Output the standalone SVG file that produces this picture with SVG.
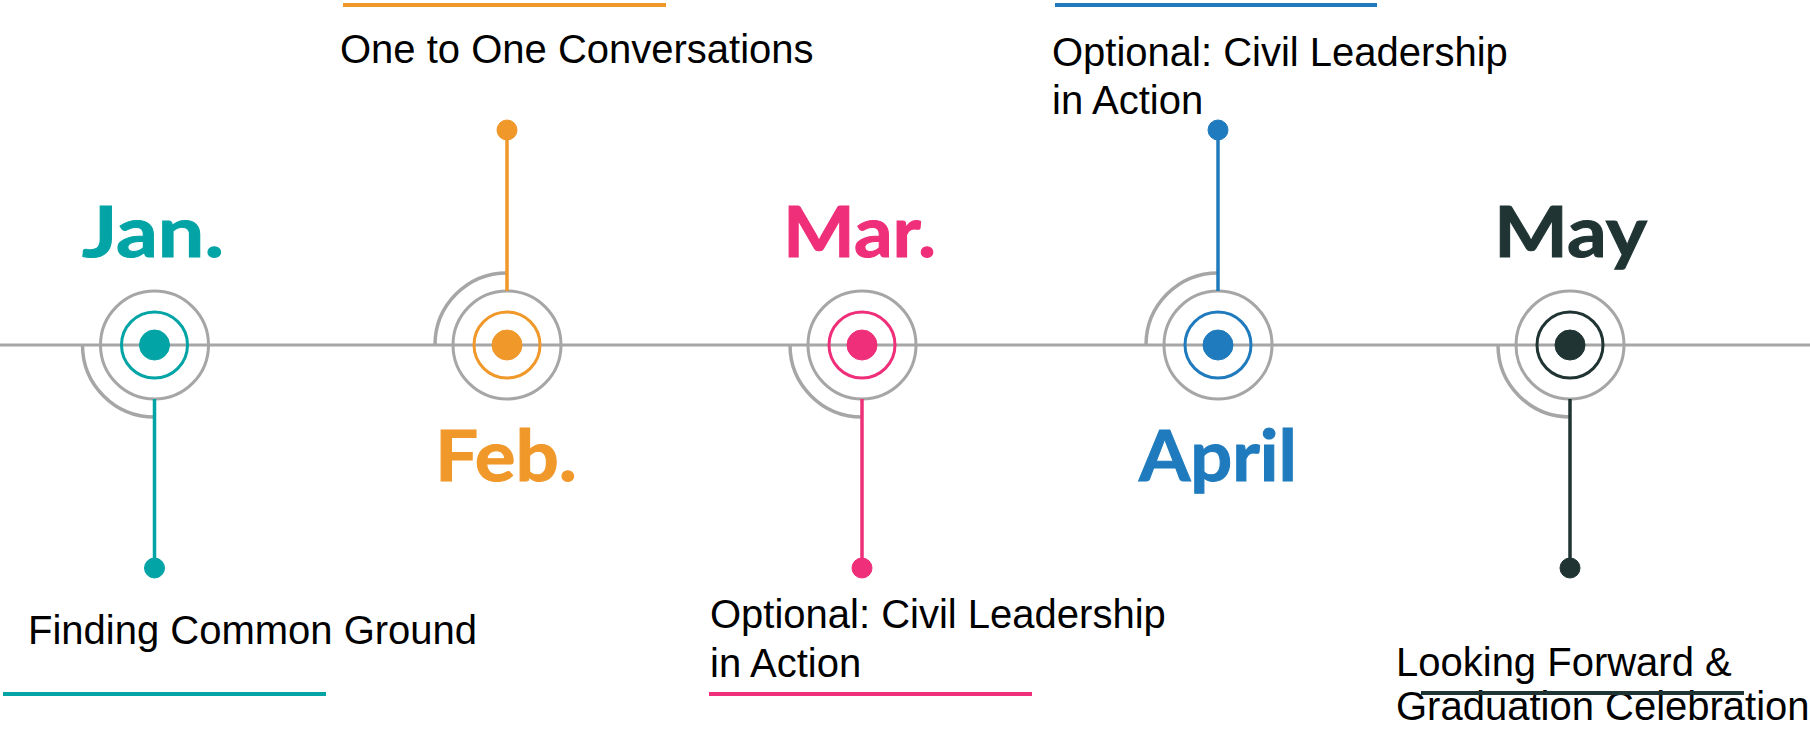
<svg xmlns="http://www.w3.org/2000/svg" width="1810" height="729" viewBox="0 0 1810 729">
<style>
.gray{fill:none;stroke:#a6a6a6;stroke-width:3}
.arc{fill:none;stroke:#a6a6a6;stroke-width:3.5}
.month{font-family:Lato,"Liberation Sans",sans-serif;font-weight:700;font-size:70px}
.desc{font-family:"Liberation Sans",Arial,sans-serif;font-size:40px;fill:#000}
.jan{stroke:#03a4a6;fill:#03a4a6}
.feb{stroke:#f0982a;fill:#f0982a}
.mar{stroke:#ef2f79;fill:#ef2f79}
.apr{stroke:#1f7bbd;fill:#1f7bbd}
.may{stroke:#1f3433;fill:#1f3433}
.ring{fill:none;stroke-width:3}
.stem{stroke-width:3.5}
.bar{stroke-width:4}
</style>
<rect width="1810" height="729" fill="#fff"/>
<g id="connectors">
<line class="gray" x1="0" y1="345" x2="1810" y2="345"/>
</g>
<g id="node-jan">
<path class="arc" d="M82.5 345 A72 72 0 0 0 154.5 417"/>
<circle class="gray" cx="154.5" cy="345" r="54"/>
<circle class="ring jan" cx="154.5" cy="345" r="33"/>
<circle class="jan" stroke="none" cx="154.5" cy="345" r="15"/>
<line class="stem jan" x1="154.5" y1="399" x2="154.5" y2="568"/>
<circle class="jan" stroke="none" cx="154.5" cy="568" r="10"/>
<text class="month jan" stroke="none" x="82" y="257" textLength="142" lengthAdjust="spacingAndGlyphs">Jan.</text>
<text class="desc" x="28" y="644">Finding Common Ground</text>
<line class="bar jan" x1="3" y1="694" x2="326" y2="694"/>
</g>
<g id="node-feb">
<path class="arc" d="M435 345 A72 72 0 0 1 507 273"/>
<circle class="gray" cx="507" cy="345" r="54"/>
<circle class="ring feb" cx="507" cy="345" r="33"/>
<circle class="feb" stroke="none" cx="507" cy="345" r="15"/>
<line class="stem feb" x1="507" y1="291" x2="507" y2="130"/>
<circle class="feb" stroke="none" cx="507" cy="130" r="10"/>
<text class="month feb" stroke="none" x="435" y="481" textLength="142" lengthAdjust="spacingAndGlyphs">Feb.</text>
<text class="desc" x="340" y="63">One to One Conversations</text>
<line class="bar feb" x1="343" y1="5" x2="666" y2="5"/>
</g>
<g id="node-mar">
<path class="arc" d="M790 345 A72 72 0 0 0 862 417"/>
<circle class="gray" cx="862" cy="345" r="54"/>
<circle class="ring mar" cx="862" cy="345" r="33"/>
<circle class="mar" stroke="none" cx="862" cy="345" r="15"/>
<line class="stem mar" x1="862" y1="399" x2="862" y2="568"/>
<circle class="mar" stroke="none" cx="862" cy="568" r="10"/>
<text class="month mar" stroke="none" x="783" y="257" textLength="153" lengthAdjust="spacingAndGlyphs">Mar.</text>
<text class="desc" x="710" y="628">Optional: Civil Leadership</text>
<text class="desc" x="710" y="677">in Action</text>
<line class="bar mar" x1="709" y1="694" x2="1032" y2="694"/>
</g>
<g id="node-apr">
<path class="arc" d="M1146 345 A72 72 0 0 1 1218 273"/>
<circle class="gray" cx="1218" cy="345" r="54"/>
<circle class="ring apr" cx="1218" cy="345" r="33"/>
<circle class="apr" stroke="none" cx="1218" cy="345" r="15"/>
<line class="stem apr" x1="1218" y1="291" x2="1218" y2="130"/>
<circle class="apr" stroke="none" cx="1218" cy="130" r="10"/>
<text class="month apr" stroke="none" x="1139" y="481" textLength="158" lengthAdjust="spacingAndGlyphs">April</text>
<text class="desc" x="1052" y="66">Optional: Civil Leadership</text>
<text class="desc" x="1052" y="114">in Action</text>
<line class="bar apr" x1="1055" y1="5" x2="1377" y2="5"/>
</g>
<g id="node-may">
<path class="arc" d="M1498 345 A72 72 0 0 0 1570 417"/>
<circle class="gray" cx="1570" cy="345" r="54"/>
<circle class="ring may" cx="1570" cy="345" r="33"/>
<circle class="may" stroke="none" cx="1570" cy="345" r="15"/>
<line class="stem may" x1="1570" y1="399" x2="1570" y2="568"/>
<circle class="may" stroke="none" cx="1570" cy="568" r="10"/>
<text class="month may" stroke="none" x="1494" y="257" textLength="153" lengthAdjust="spacingAndGlyphs">May</text>
<text class="desc" x="1396" y="676">Looking Forward &amp;</text>
<text class="desc" x="1396" y="720">Graduation Celebration</text>
<line class="bar may" x1="1421" y1="693" x2="1744" y2="693"/>
</g>
</svg>
